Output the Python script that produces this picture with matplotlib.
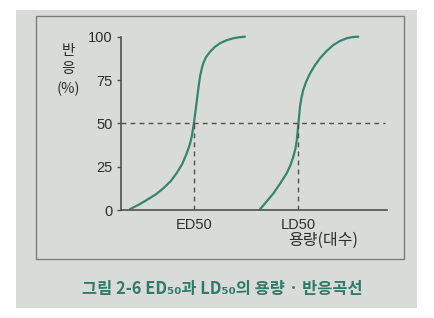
import matplotlib
matplotlib.use("Agg")
import matplotlib.pyplot as plt
from matplotlib.patches import Rectangle

# dose-response curves (dose in arbitrary log units, response in %)
ed_dose = [0.34, 0.66, 0.97, 1.30, 1.59, 1.86, 2.09, 2.30, 2.47, 2.58, 2.66, 2.74, 2.81,
           2.87, 2.92, 2.97, 3.03, 3.09, 3.20, 3.35, 3.52, 3.72, 3.96, 4.22, 4.45, 4.66]
ed_resp = [0.5, 3.0, 5.8, 8.9, 12.5, 16.5, 21.2, 26.5, 32.7, 37.5, 42.3, 50, 58.0,
           65.4, 71.5, 76.9, 81.2, 84.6, 88.3, 91.3, 94.0, 96.2, 97.9, 99.1, 99.7, 100]
ld_dose = [5.23, 5.48, 5.73, 5.98, 6.23, 6.37, 6.48, 6.56, 6.61, 6.67, 6.70, 6.73, 6.78,
           6.85, 6.96, 7.11, 7.29, 7.48, 7.72, 7.98, 8.23, 8.48, 8.70, 8.92]
ld_resp = [0.5, 5.0, 9.6, 15.2, 21.2, 25.9, 30.8, 35.6, 40.4, 50, 55.0, 59.6, 64.5,
           69.2, 74.0, 78.9, 83.5, 87.5, 91.6, 95.2, 97.5, 99.1, 99.8, 100]

ed50 = 2.74
ld50 = 6.65
yticks = [0, 25, 50, 75, 100]
xtick_labels = ["ED50", "LD50"]
ylabel_lines = ["반", "응", "(%)"]

bg = "#d8dbd7"
text_c = "#2f2f2f"
line_c = "#34866f"
dash_c = "#505050"

fig = plt.figure(figsize=(4.35, 3.18), dpi=100, facecolor="white")
W, H = 435, 318

def fx(px):
    return px / W

def fy(py):
    return 1 - py / H

# photo area and the printed frame
fig.patches.append(Rectangle((fx(16), fy(308)), fx(417) - fx(16), fy(10) - fy(308),
                             transform=fig.transFigure, facecolor=bg, edgecolor="none", zorder=-2))
fig.patches.append(Rectangle((fx(36), fy(259)), fx(404) - fx(36), fy(16) - fy(259),
                             transform=fig.transFigure, facecolor="none", edgecolor="#7a7d7a",
                             linewidth=1.0, zorder=-1))

ax = fig.add_axes([fx(121), fy(210), fx(387) - fx(121), fy(36.7) - fy(210)])
ax.set_zorder(2)
ax.set_facecolor("none")
ax.set_xlim(0, 10)
ax.set_ylim(0, 100)

ax.plot(ed_dose, ed_resp, color=line_c, linewidth=1.6, solid_capstyle="round",
        solid_joinstyle="round", clip_on=False)
ax.plot(ld_dose, ld_resp, color=line_c, linewidth=1.6, solid_capstyle="round",
        solid_joinstyle="round", clip_on=False)

dash = dict(color=dash_c, linewidth=1.0, dashes=(3.5, 3))
ax.plot([0, 9.92], [50, 50], **dash)
ax.plot([ed50, ed50], [0, 50], **dash)
ax.plot([ld50, ld50], [0, 50], **dash)

for s in ["top", "right"]:
    ax.spines[s].set_visible(False)
for s in ["left", "bottom"]:
    ax.spines[s].set_color("#505050")
    ax.spines[s].set_linewidth(1.2)

ax.set_yticks(yticks)
ax.set_yticklabels([str(v) for v in yticks])
ax.tick_params(axis="y", length=3, width=1, color="#505050", pad=3,
               labelsize=10.5, labelcolor=text_c)
ax.set_xticks([ed50, ld50])
ax.set_xticklabels(xtick_labels)
ax.tick_params(axis="x", length=0, pad=6, labelsize=10.5, labelcolor=text_c)
for lab in ax.get_xticklabels() + ax.get_yticklabels():
    lab.set_family(["Liberation Sans", "DejaVu Sans"])

kfont = ["Noto Sans CJK KR", "DejaVu Sans"]
# vertical y label, one line at a time
for txt, py in zip(ylabel_lines, [51, 69, 89]):
    fig.text(fx(68), fy(py), txt, ha="center", va="center", fontsize=10.5,
             color=text_c, family=kfont)
fig.text(fx(358), fy(240), "용량(대수)", ha="right", va="center", fontsize=11.5,
         color=text_c, family=kfont)

fig.text(fx(222), fy(289), "그림 2-6 ED₅₀과 LD₅₀의 용량 · 반응곡선", ha="center", va="center",
         fontsize=11.8, color="#2f7a69", family=kfont, fontweight="bold")

fig.savefig("out.png", dpi=100, facecolor="white")
